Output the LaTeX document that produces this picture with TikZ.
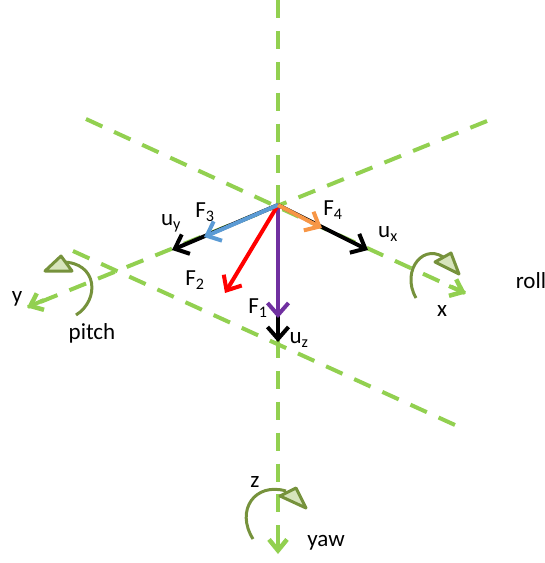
\documentclass[tikz,border=0pt]{standalone}
\usepackage{fontspec}
\setmainfont{Carlito}
\usetikzlibrary{arrows.meta}
\definecolor{axisgreen}{RGB}{146,208,80}
\definecolor{arcgreen}{RGB}{118,146,60}
\definecolor{tipgreen}{RGB}{215,228,188}
\definecolor{forcepurple}{RGB}{112,48,160}
\definecolor{forceblue}{RGB}{91,155,213}
\definecolor{forceorange}{RGB}{247,150,70}
\tikzset{
    axisline/.style={line width=4pt, axisgreen, dash pattern=on 18pt off 12.9pt},
    axistip/.style={line width=4pt, axisgreen, -{Straight Barb[length=11pt,width=18pt,line width=4.5pt]}},
    vec/.style={line width=4pt, -{Straight Barb[length=12pt,width=21pt,line width=4pt]}},
    rotarc/.style={line width=3pt, arcgreen},
    rottip/.style={line width=3pt, arcgreen, fill=tipgreen, line join=round},
    lbl/.style={inner sep=0pt, font=\fontsize{23}{23}\selectfont}
}
\begin{document}
\begin{tikzpicture}[x=1pt, y=-1pt]
    \useasboundingbox (0,0) rectangle (545,563);

    % Pontos
    \coordinate (o) at (278,205);
    \coordinate (ztop) at (278,0);
    \coordinate (zend) at (278,553);
    \coordinate (xback) at (86,119);
    \coordinate (xend) at (465,293);
    \coordinate (yback) at (487,121);
    \coordinate (yend) at (28,307);
    \coordinate (pa) at (73,251);
    \coordinate (pb) at (455,425);

    % Eixos
    \draw [axisline] (ztop) -- (zend);
    \draw [axisline] (xback) -- (xend);
    \draw [axisline] (yback) -- (yend);
    \draw [axisline] (pa) -- (pb);

    % Pontas dos eixos
    \coordinate (zb) at (278,535);
    \coordinate (xb) at (449,286);
    \coordinate (yb) at (44,300);
    \draw [axistip, shorten >=-1pt] (zb) -- (zend);
    \draw [axistip, shorten >=-1pt] (xb) -- (xend);
    \draw [axistip, shorten >=-1pt] (yb) -- (yend);

    % Vetores unitarios
    \coordinate (ux) at (368,250);
    \coordinate (uy) at (172,250);
    \coordinate (uz) at (278,342);
    \draw [vec, black] (o) -- (ux);
    \draw [vec, black] (o) -- (uy);
    \draw [vec, black] (o) -- (uz);

    % Forcas
    \coordinate (f1) at (278,318);
    \coordinate (f2) at (225,293);
    \coordinate (f3) at (204,237);
    \coordinate (f4) at (322,228);
    \draw [vec, forcepurple] (o) -- (f1);
    \draw [vec, red] (o) -- (f2);
    \draw [vec, forceblue] (o) -- (f3);
    \draw [vec, forceorange] (o) -- (f4);

    % Pitch
    \draw [rotarc] (76,315) .. controls (100,300) and (98,262) .. (62,262);
    \draw [rottip] (45,271) -- (72,271) -- (61,256) -- cycle;

    % Roll
    \draw [rotarc] (416,298) .. controls (400,270) and (425,240) .. (447,260);
    \draw [rottip] (435,262) -- (451,253) -- (459,274) -- cycle;

    % Yaw
    \draw [rotarc] (253,539) .. controls (235,510) and (255,482) .. (286,491);
    \draw [rottip] (280,496) -- (296,488) -- (306,508) -- cycle;

    % Textos
    \node [lbl] (ylabel) at (17,299) {y};
    \node [lbl] (pitchlabel) at (92,333) {pitch};
    \node [lbl] (xlabel) at (442,311) {x};
    \node [lbl] (rolllabel) at (531,281) {roll};
    \node [lbl] (zlabel) at (255,482) {z};
    \node [lbl] (yawlabel) at (326,543) {yaw};
    \node [lbl] (f1label) at (258,308) {F\textsubscript{1}};
    \node [lbl] (f2label) at (195,280) {F\textsubscript{2}};
    \node [lbl] (f3label) at (205,212) {F\textsubscript{3}};
    \node [lbl] (f4label) at (333,210) {F\textsubscript{4}};
    \node [lbl] (uxlabel) at (388,234) {u\textsubscript{x}};
    \node [lbl] (uylabel) at (171,223) {u\textsubscript{y}};
    \node [lbl] (uzlabel) at (299,340) {u\textsubscript{z}};
\end{tikzpicture}
\end{document}
